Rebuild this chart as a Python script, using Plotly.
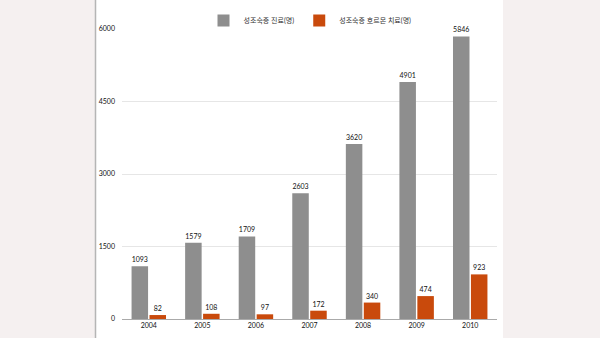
import plotly.graph_objects as go

years = ["2004", "2005", "2006", "2007", "2008", "2009", "2010"]
visits = [1093, 1579, 1709, 2603, 3620, 4901, 5846]
hormone = [82, 108, 97, 172, 340, 474, 923]
y_ticks = [0, 1500, 3000, 4500, 6000]

FONT = "Lato, 'Noto Sans CJK KR', sans-serif"
L, R, T, B = 122, 103, 29, 19
W, H = 600, 338
pw = W - L - R
ph = H - T - B

def px2x(p):
    return (p - L) / pw

def px2y(p):
    return (H - B - p) / ph

fig = go.Figure()
fig.add_trace(go.Bar(
    x=years, y=visits, name="성조숙증 진료(명)",
    marker=dict(color="#8e8e8e", line=dict(width=0)),
    text=visits, textposition="outside", cliponaxis=False,
    textfont=dict(size=7, color="#111", family=FONT),
))
fig.add_trace(go.Bar(
    x=years, y=hormone, name="성조숙증 호르몬 치료(명)",
    marker=dict(color="#c94a0c", line=dict(width=0)),
    text=hormone, textposition="outside", cliponaxis=False,
    textfont=dict(size=7, color="#111", family=FONT),
))

fig.update_layout(
    width=W, height=H,
    margin=dict(l=L, r=R, t=T, b=B, autoexpand=False),
    paper_bgcolor="#f5f0f0",
    plot_bgcolor="white",
    barmode="group", bargap=0.33, bargroupgap=0.08,
    font=dict(family=FONT, size=7, color="#111"),
    showlegend=True,
    legend=dict(orientation="h", x=px2x(310), xanchor="center", y=px2y(6), yanchor="top",
                font=dict(size=7, color="#333", family=FONT),
                bgcolor="rgba(0,0,0,0)", itemwidth=30, traceorder="normal"),
    xaxis=dict(showgrid=False, ticks="", tickfont=dict(size=7, color="#111"),
               showline=True, linecolor="#aaaaaa", linewidth=1),
    yaxis=dict(range=[0, 6000], tickvals=y_ticks, showgrid=True, gridcolor="#e6e6e6",
               gridwidth=1, zeroline=False, showline=False,
               tickfont=dict(size=7, color="#111"), ticklabelstandoff=6),
    shapes=[
        dict(type="rect", xref="paper", yref="paper", x0=px2x(96), x1=px2x(503),
             y0=px2y(H + 5), y1=px2y(-5), fillcolor="white", line=dict(width=0), layer="below"),
        dict(type="line", xref="paper", yref="paper", x0=px2x(95.5), x1=px2x(95.5),
             y0=px2y(H + 5), y1=px2y(-5), line=dict(color="#b5b5b5", width=1.5)),
    ],
)

fig.write_html("out.html")
